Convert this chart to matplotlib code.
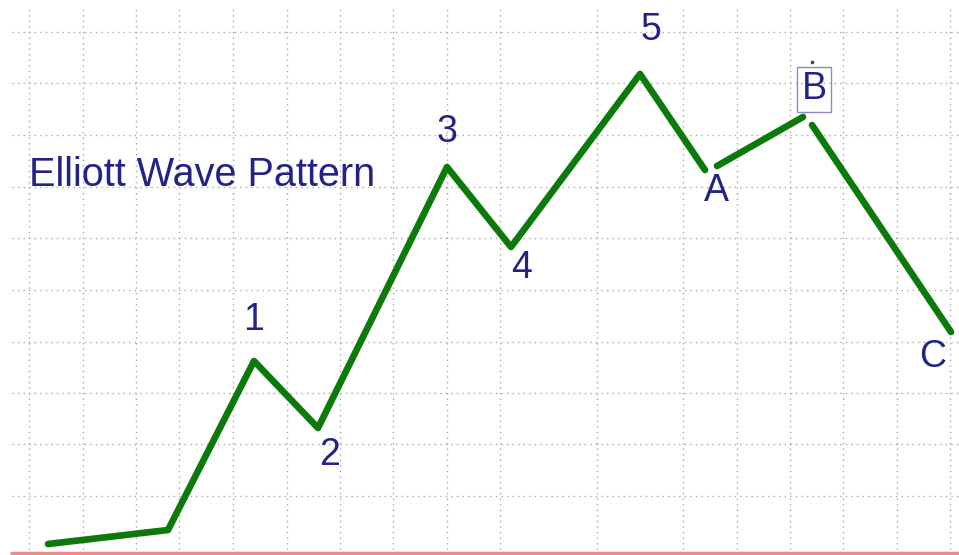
import matplotlib.pyplot as plt

# Onda de Elliott: tramos (x = tiempo, y = precio)
onda_x = [48, 168, 254, 318, 447, 511, 640, 705]
onda_y = [9, 23, 192, 125, 386, 306, 479, 383]
tramo_ab_x = [717, 803]
tramo_ab_y = [387, 436]
tramo_bc_x = [812, 951]
tramo_bc_y = [428, 221]

etiquetas = ["1", "2", "3", "4", "5", "A", "B", "C"]
etiq_x = [254, 330, 447, 522, 651, 716, 814, 933]
etiq_y = [233, 98, 421, 285, 523, 362, 464, 196]

rejilla_x = [29, 83, 136, 179, 233, 287, 340, 393, 447, 500, 597, 683, 737, 790, 843, 897, 950]
rejilla_y = [521, 470, 418, 366, 315, 263, 211, 160, 109, 57]

azul = "#222288"
verde = "#0b7a0b"

fig = plt.figure(figsize=(9.59, 5.55), dpi=100)
ax = fig.add_axes([0, 0, 1, 1])
ax.set_xlim(0, 959)
ax.set_ylim(-2, 553)
ax.axis("off")

# rejilla punteada
ax.vlines(rejilla_x, -2, 545, colors="#a8a8a8", linestyles=(0, (1, 3)), linewidth=1)
ax.hlines(rejilla_y, 12, 959, colors="#a8a8a8", linestyles=(0, (1, 3)), linewidth=1)
ax.hlines(0, 10, 959, colors="#f28a8a", linewidth=2.5)

estilo = dict(color=verde, linewidth=4.8, solid_capstyle="round", solid_joinstyle="round")
ax.plot(onda_x, onda_y, **estilo)
ax.plot(tramo_ab_x, tramo_ab_y, **estilo)
ax.plot(tramo_bc_x, tramo_bc_y, **estilo)
ax.plot([812], [491], "s", color="#1f5f1f", markersize=2)

for t, x, y in zip(etiquetas, etiq_x, etiq_y):
    caja = None
    if t == "B":
        caja = dict(boxstyle="square,pad=0.12", fc="none", ec="#8a8ac0", lw=1)
    ax.text(x, y, t, color=azul, fontsize=27, family="Liberation Sans",
            ha="center", va="center", bbox=caja)

ax.text(29, 378, "Elliott Wave Pattern", color=azul, fontsize=28.5,
        family="Liberation Sans", ha="left", va="center")

plt.savefig("out.png", dpi=100)
